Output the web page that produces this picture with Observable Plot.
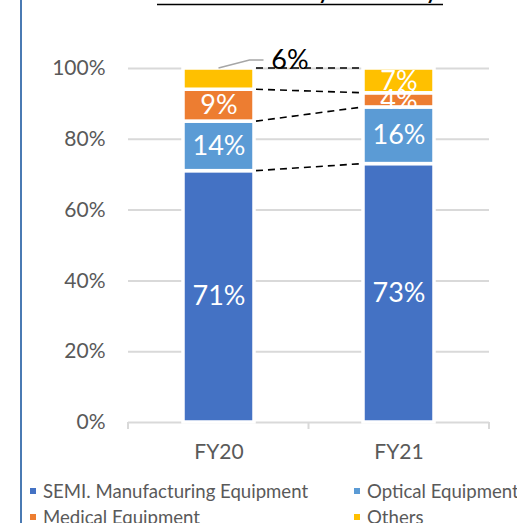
<!DOCTYPE html>
<html><head><meta charset="utf-8">
<script src="https://cdn.jsdelivr.net/npm/d3@7"></script>
<script src="https://cdn.jsdelivr.net/npm/@observablehq/plot@0.6"></script>
<style>
html,body{margin:0;padding:0;background:#fff;overflow:hidden;width:517px;height:523px;}
#wrap{position:relative;width:517px;height:523px;overflow:hidden;}
#border{position:absolute;left:20px;top:0;width:2px;height:523px;background:#4a7ab3;}
#chart svg{display:block;}
.lg-swatches{display:grid !important;grid-template-columns:324px 324px;margin:0 0 0 30px !important;min-height:0 !important;font-family:Lato !important;font-size:18.6px !important;color:#595959 !important;}
.lg-swatch{margin:0 !important;height:26px;display:flex !important;align-items:center;white-space:nowrap;}
.lg-swatch > svg{margin-right:7px !important;}
</style></head><body><div id="wrap"><div id="chart"></div><div id="border"></div></div>
<script>
const title = "Sales Ratio by Industry";
const years = ["FY20", "FY21"];
const categories = ["SEMI. Manufacturing Equipment", "Optical Equipment", "Medical Equipment", "Others"];
const colors = ["#4472C4", "#5B9BD5", "#ED7D31", "#FFC000"];
const semiValues = [71, 73];
const opticalValues = [14, 16];
const medicalValues = [9, 4];
const othersValues = [6, 7];
const yTicks = [0, 20, 40, 60, 80, 100];

const series = [semiValues, opticalValues, medicalValues, othersValues];
const data = categories.flatMap((c, i) => years.map((y, j) => ({year: y, category: c, value: series[i][j]})));
const isCallout = d => d.year === "FY20" && d.category === "Others";

const plot = Plot.plot({
  width: 517, height: 478,
  marginLeft: 128, marginRight: 28, marginTop: 68, marginBottom: 56,
  style: {fontFamily: "Lato", fontSize: "21px", color: "#595959", background: "transparent", overflow: "visible"},
  x: {domain: years, paddingInner: 0.604, paddingOuter: 0.302, label: null, tickSize: 0, tickPadding: 22},
  y: {domain: [0, 100], ticks: yTicks, tickFormat: d => d + "%", label: null, tickSize: 0, tickPadding: 23},
  color: {domain: categories, range: colors},
  marks: [
    Plot.ruleY(yTicks, {stroke: "#d9d9d9", strokeWidth: 2}),
    Plot.barY(data, {x: "year", y: "value", fill: "category", stroke: "white", strokeWidth: 3.5}),
    Plot.text(data, Plot.stackY({x: "year", y: "value", z: "category", text: d => isCallout(d) ? "" : d.value + "%", fill: "white", fontSize: 27})),
    Plot.text(data, Plot.stackY2({x: "year", y: "value", z: "category", text: d => isCallout(d) ? d.value + "%" : "", fill: "black", fontSize: 27, dx: 71, dy: -8}))
  ]
});

const svg = d3.select(plot);
const xs = plot.scale("x"), ys = plot.scale("y");
const bw = xs.bandwidth;
const xa = xs.apply(years[0]), xb = xs.apply(years[1]);
const g = svg.append("g");

// connectors
const cumA = d3.cumsum(series.map(s => s[0]));
const cumB = d3.cumsum(series.map(s => s[1]));
cumA.forEach((v, i) => {
  g.append("line").attr("x1", xa + bw + 2).attr("x2", xb).attr("y1", ys.apply(v)).attr("y2", ys.apply(cumB[i]))
    .attr("stroke", "black").attr("stroke-width", 1.6).attr("stroke-dasharray", "7,5");
});
// leader line for callout
const topA = ys.apply(cumA[cumA.length - 1]);
const cx = xa + bw / 2;
g.append("polyline").attr("points", `${cx},${topA} ${cx + 31},${topA - 8} ${cx + 45},${topA - 8}`)
  .attr("fill", "none").attr("stroke", "#a6a6a6").attr("stroke-width", 1.5);
// category boundary ticks
const [r0, r1] = xs.range;
const mid = (xa + bw + xb) / 2;
[r0, mid, r1].forEach(x => {
  g.append("line").attr("x1", x).attr("x2", x).attr("y1", ys.apply(0)).attr("y2", ys.apply(0) + 7)
    .attr("stroke", "#d9d9d9").attr("stroke-width", 2);
});
// title (mostly cropped off the top)
g.append("text").attr("x", 300).attr("y", -2).attr("text-anchor", "middle").attr("font-size", 28)
  .attr("fill", "black").text(title);
g.append("line").attr("x1", 157).attr("x2", 443).attr("y1", 4.5).attr("y2", 4.5).attr("stroke", "black").attr("stroke-width", 1.5);

const chart = document.getElementById("chart");
chart.appendChild(plot);
chart.appendChild(plot.legend("color", {swatchSize: 6, className: "lg"}));
</script></body></html>
